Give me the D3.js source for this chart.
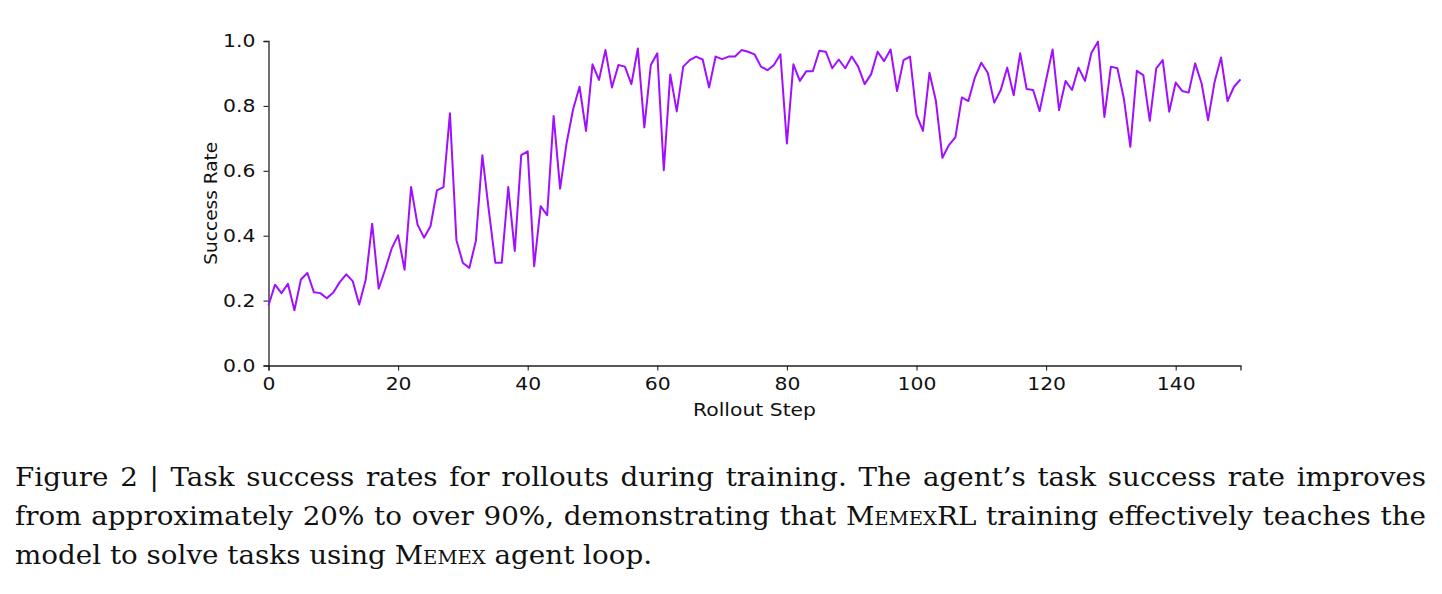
<!DOCTYPE html>
<html>
<head>
<meta charset="utf-8">
<script src="https://cdn.jsdelivr.net/npm/d3@7"></script>
<style>
  body { margin: 0; background: #fff; width: 1442px; height: 594px; overflow: hidden; }
  #chart { position: absolute; left: 0; top: 0; }
  .caption { position: absolute; left: 15px; width: 1411px; font-family: "DejaVu Serif", serif;
    font-size: 25.5px; line-height: 30px; color: #111; white-space: nowrap; transform-origin: 0 0; }
  .caption.just { text-align: justify; text-align-last: justify; }
  .sc { font-variant: small-caps; }
</style>
</head>
<body>
<svg id="chart" width="1442" height="440"></svg>
<div class="caption just" style="top:462px"><span class="ln">Figure 2 | Task success rates for rollouts during training. The agent’s task success rate improves</span></div>
<div class="caption just" style="top:501px"><span class="ln">from approximately 20% to over 90%, demonstrating that <span class="sc">Memex</span>RL training effectively teaches the</span></div>
<div class="caption" style="top:540px"><span class="ln">model to solve tasks using <span class="sc">Memex</span> agent loop.</span></div>
<script>
// success rate per rollout step
const steps = d3.range(0, 151);
const successRate = [
  0.185, 0.249, 0.223, 0.252, 0.170, 0.265, 0.285, 0.226, 0.223, 0.207,
  0.225, 0.257, 0.281, 0.260, 0.188, 0.264, 0.437, 0.237, 0.295, 0.360,
  0.401, 0.295, 0.550, 0.434, 0.394, 0.429, 0.540, 0.550, 0.777, 0.386,
  0.316, 0.301, 0.384, 0.648, 0.478, 0.317, 0.317, 0.550, 0.353, 0.648,
  0.660, 0.306, 0.491, 0.463, 0.769, 0.545, 0.685, 0.789, 0.859, 0.723,
  0.928, 0.880, 0.972, 0.857, 0.926, 0.921, 0.867, 0.977, 0.734, 0.926,
  0.962, 0.602, 0.897, 0.783, 0.921, 0.941, 0.952, 0.943, 0.857, 0.952,
  0.944, 0.952, 0.952, 0.972, 0.967, 0.959, 0.921, 0.910, 0.926, 0.959,
  0.684, 0.928, 0.877, 0.907, 0.907, 0.970, 0.967, 0.916, 0.943, 0.916,
  0.952, 0.921, 0.867, 0.898, 0.967, 0.938, 0.974, 0.846, 0.941, 0.952,
  0.772, 0.723, 0.902, 0.815, 0.640, 0.679, 0.703, 0.826, 0.815, 0.887,
  0.933, 0.902, 0.810, 0.849, 0.918, 0.833, 0.962, 0.852, 0.849, 0.784,
  0.880, 0.974, 0.787, 0.877, 0.849, 0.918, 0.877, 0.964, 0.998, 0.766,
  0.921, 0.916, 0.823, 0.674, 0.908, 0.895, 0.754, 0.916, 0.941, 0.782,
  0.872, 0.846, 0.841, 0.931, 0.869, 0.756, 0.874, 0.949, 0.815, 0.859,
  0.882
];
const xTicks = [0, 20, 40, 60, 80, 100, 120, 140];
const yTicks = [0, 0.2, 0.4, 0.6, 0.8, 1.0];

const margin = { left: 268.5, right: 1240.5, top: 41, bottom: 365.5 };
const svg = d3.select('#chart');

const x = d3.scaleLinear().domain([0, 150]).range([margin.left, margin.right]);
const y = d3.scaleLinear().domain([0, 1]).range([margin.bottom, margin.top]);

// source figure is a bit stretched sideways, so the labels get a small x-scale
const fontAxis = 'DejaVu Sans, sans-serif';
const stretch = 1.1;

const gx = svg.append('g').attr('transform', `translate(0,${margin.bottom})`)
  .call(d3.axisBottom(x).tickValues(xTicks).tickSizeOuter(0).tickSize(5).tickPadding(6));
const gy = svg.append('g').attr('transform', `translate(${margin.left},0)`)
  .call(d3.axisLeft(y).tickValues(yTicks).tickFormat(d3.format('.1f')).tickSizeOuter(0).tickSize(5).tickPadding(6));

[gx, gy].forEach(g => {
  g.select('.domain').attr('stroke', '#222').attr('stroke-width', 1.3);
  g.selectAll('.tick line').attr('stroke', '#222').attr('stroke-width', 1.1);
  g.selectAll('.tick text').attr('fill', '#111').attr('font-size', '18.5px').attr('font-family', fontAxis);
});
gx.selectAll('.tick text').attr('transform', `scale(${stretch},1)`);
gy.selectAll('.tick text').attr('transform', `translate(-1,0) scale(${stretch},1)`);

// axis labels
svg.append('text').text('Rollout Step')
  .attr('transform', `translate(${(margin.left + margin.right) / 2},416) scale(${stretch},1)`)
  .attr('text-anchor', 'middle').attr('font-size', '18.5px').attr('font-family', fontAxis).attr('fill', '#111');
svg.append('text').text('Success Rate')
  .attr('transform', `translate(217,${(margin.top + margin.bottom) / 2}) rotate(-90)`)
  .attr('text-anchor', 'middle').attr('font-size', '18.5px').attr('font-family', fontAxis).attr('fill', '#111');

// series line
const line = d3.line().x((d, i) => x(steps[i])).y(d => y(d));
svg.append('path').datum(successRate)
  .attr('d', line).attr('fill', 'none')
  .attr('stroke', '#a010ff').attr('stroke-width', 2).attr('stroke-linejoin', 'round');

// caption: pick one x-scale so the longest justified line still fits 1411px,
// and the short last line gets as close to its 662px as that allows
const caps = Array.from(document.querySelectorAll('.caption'));
const natural = caps.map(el => {
  const span = el.querySelector('.ln');
  span.style.display = 'inline-block'; span.style.width = 'auto';
  const w = span.getBoundingClientRect().width;
  span.style.display = ''; return w;
});
const k = Math.min(662 / natural[2], 1400 / natural[0], 1400 / natural[1]);
caps.forEach(el => {
  el.style.width = (1411 / k) + 'px';
  el.style.transform = `scale(${k},1)`;
});
</script>
</body>
</html>
